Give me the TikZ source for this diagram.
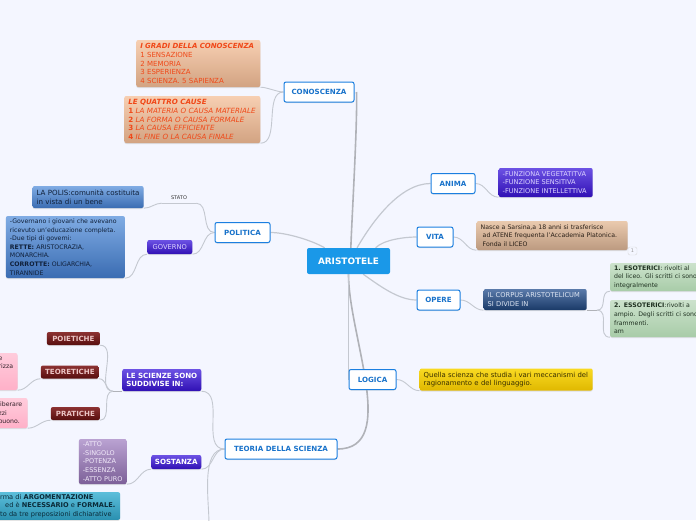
\documentclass[tikz,border=0pt]{standalone}
\usepackage{fontspec}
\setmainfont{DejaVu Sans}
\usepackage{tikz}
\usetikzlibrary{positioning,shadows,backgrounds}

\definecolor{pagebg}{HTML}{F4F6FF}
\definecolor{linkgray}{HTML}{C4C8D0}
\definecolor{trunkgray}{HTML}{B0B2B8}
\definecolor{topicblue}{HTML}{1B7FE0}
\definecolor{rootblue}{HTML}{1A98E8}
\definecolor{peachA}{HTML}{F7CFB2}\definecolor{peachB}{HTML}{D2A382}\definecolor{peachT}{HTML}{F04818}
\definecolor{steelA}{HTML}{80ACE4}\definecolor{steelB}{HTML}{3A6CB2}\definecolor{steelT}{HTML}{10203A}
\definecolor{indigoA}{HTML}{6C52E4}\definecolor{indigoB}{HTML}{3010B4}\definecolor{indigoT}{HTML}{DCD4FF}
\definecolor{maroonA}{HTML}{8C3232}\definecolor{maroonB}{HTML}{580E0E}\definecolor{maroonT}{HTML}{EBC4C4}
\definecolor{blushA}{HTML}{FFCCDC}\definecolor{blushB}{HTML}{FFB0C8}\definecolor{blushT}{HTML}{302028}
\definecolor{lilacA}{HTML}{BAA2D2}\definecolor{lilacB}{HTML}{7C6098}\definecolor{lilacT}{HTML}{F2EAFA}
\definecolor{tealA}{HTML}{5CBEDA}\definecolor{tealB}{HTML}{2A90B0}\definecolor{tealT}{HTML}{0A2A38}
\definecolor{tanA}{HTML}{EACAAE}\definecolor{tanB}{HTML}{BC9A80}\definecolor{tanT}{HTML}{2A2018}
\definecolor{navyA}{HTML}{5A7AAA}\definecolor{navyB}{HTML}{1A3A68}\definecolor{navyT}{HTML}{DCE4F2}
\definecolor{sageA}{HTML}{CCE2CC}\definecolor{sageB}{HTML}{A8CCA8}\definecolor{sageT}{HTML}{1E3020}
\definecolor{goldA}{HTML}{F9DA22}\definecolor{goldB}{HTML}{E0B800}\definecolor{goldT}{HTML}{3A3000}
\newcommand{\boxfont}[1]{\fontsize{#1}{8.6}\selectfont}
\newcommand{\capfont}[1]{\fontsize{#1}{8.6}\selectfont\bfseries}

\tikzset{
    box/.style={rectangle, rounded corners=2pt, inner xsep=4pt, inner ysep=2pt, align=left, font=\boxfont{6.2},
        drop shadow={shadow xshift=0pt, shadow yshift=-1pt, fill=black!30, opacity=.35}},
    fillbox/.style={box, top color=#1A, bottom color=#1B, text=#1T},
    peach/.style={fillbox=peach, font=\boxfont{7.15}, minimum height=47pt},
    steel/.style={fillbox=steel},
    indigo/.style={fillbox=indigo},
    maroon/.style={fillbox=maroon, font=\capfont{7.1}, align=center, minimum height=13pt},
    blush/.style={fillbox=blush},
    lilac/.style={fillbox=lilac, font=\boxfont{6.5}},
    teal/.style={fillbox=teal, font=\boxfont{6.6}},
    tan/.style={fillbox=tan},
    navy/.style={fillbox=navy, font=\boxfont{6.7}},
    sage/.style={fillbox=sage},
    gold/.style={fillbox=gold, font=\boxfont{6.9}},
    topic/.style={rectangle, rounded corners=2pt, draw=topicblue, line width=1pt, fill=white, text=topicblue!90!black,
        font=\capfont{7.1}, minimum height=20pt, inner sep=0pt,
        drop shadow={shadow xshift=0pt, shadow yshift=-1pt, fill=black!30, opacity=.35}},
    link/.style={draw=linkgray, line width=.9pt},
    trunk/.style={draw=trunkgray, line width=1.6pt},
}

\begin{document}
\begin{tikzpicture}[x=1pt, y=-1pt]
    \useasboundingbox (0,0) rectangle (696,520);
    \clip (0,0) rectangle (696,520);

    \node (root) [rectangle, rounded corners=2pt, fill=rootblue, text=white, font=\capfont{8.9}, minimum width=83pt, minimum height=26pt, inner sep=0pt] at (348.5,261) {ARISTOTELE};

    \node (conoscenza) [topic, minimum width=70pt] at (319,92) {CONOSCENZA};
    \node (gradi) [peach, left=23pt of conoscenza, yshift=28.5pt, text width=116pt, font=\boxfont{7}] {\textbf{\textit{I GRADI DELLA CONOSCENZA}}\\1 SENSAZIONE\\2 MEMORIA\\3 ESPERIENZA\\4 SCIENZA. 5 SAPIENZA};
    \node (cause) [peach, left=23pt of conoscenza, yshift=-27.5pt, text width=128pt] {\textbf{\textit{LE QUATTRO CAUSE}}\\\textbf{1} \textit{LA MATERIA O CAUSA MATERIALE}\\\textbf{2} \textit{LA FORMA O CAUSA FORMALE}\\\textbf{3} \textit{LA CAUSA EFFICIENTE}\\\textbf{4} \textit{IL FINE O LA CAUSA FINALE}};

    \node (politica) [topic, minimum width=55pt] at (242.5,232.5) {POLITICA};
    \node (stato) [rectangle, font=\fontsize{5}{6}\selectfont, text=black!80, minimum width=34pt, minimum height=10pt, inner sep=0pt] at (179,198) {STATO};
    \node (polis) [steel, left=18pt of stato, yshift=1pt, text width=103pt, font=\boxfont{7.1}, minimum height=22pt] {LA POLIS:comunità costituita\\in vista di un bene};
    \node (governo) [indigo, left=22pt of politica, yshift=-14.5pt, font=\boxfont{6.7}, minimum width=45pt, minimum height=14pt, inner sep=0pt, align=center] {GOVERNO};
    \node (regimi) [steel, left=22pt of governo, text width=111pt, minimum height=62pt] {-Governano i giovani che avevano\\ricevuto un'educazione completa.\\-Due tipi di governi:\\\textbf{RETTE:} ARISTOCRAZIA,\\MONARCHIA.\\\textbf{CORROTTE:} OLIGARCHIA,\\TIRANNIDE};

    \node (teoria) [topic, minimum width=112pt] at (281,449) {TEORIA DELLA SCIENZA};
    \node (scienze) [indigo, left=23pt of teoria, yshift=69pt, text width=71pt, font=\capfont{7.1}, text=white, minimum height=22pt] {LE SCIENZE SONO\\SUDDIVISE IN:};
    \node (poietiche) [maroon, left=22pt of scienze, yshift=41.5pt, minimum width=53pt, inner sep=0pt] {POIETICHE};
    \node (teoretiche) [maroon, left=23pt of scienze, yshift=8pt, minimum width=58pt, inner sep=0pt] {TEORETICHE};
    \node (pratiche) [maroon, left=22pt of scienze, yshift=-33.5pt, minimum width=49pt, inner sep=0pt] {PRATICHE};
    \node (teoreticheNote) [blush, left=23pt of teoretiche, yshift=.5pt, text width=15pt, minimum height=37pt] {e\\rizza\\~\\~};
    \node (praticheNote) [blush, left=23pt of pratiche, yshift=.5pt, text width=25pt, minimum height=30pt] {liberare\\zzi\\buono.};
    \node (sostanza) [indigo, left=23pt of teoria, yshift=-13pt, font=\capfont{7.1}, text=white, minimum width=50pt, minimum height=14pt, inner sep=0pt, align=center] {SOSTANZA};
    \node (atto) [lilac, left=24pt of sostanza, yshift=.5pt, text width=40pt, minimum height=45pt] {-ATTO\\-SINGOLO\\-POTENZA\\-ESSENZA\\-ATTO PURO};
    \node (argomento) [teal, anchor=north west, text width=116pt] at (-4,492) {rma di \textbf{ARGOMENTAZIONE}\\\hspace*{5pt}ed è \textbf{NECESSARIO} e \textbf{FORMALE.}\\to da tre preposizioni dichiarative};
    \coordinate (teoriaEnd) at (209,524);

    \node (anima) [topic, minimum width=44pt] at (453,183.5) {ANIMA};
    \node (funzioni) [indigo, right=23pt of anima, yshift=1pt, text width=86pt, font=\boxfont{6.6}, minimum height=29pt] {-FUNZIONA VEGETATITVA\\-FUNZIONE SENSITIVA\\-FUNZIONE INTELLETTIVA};

    \node (vita) [topic, minimum width=36pt] at (435,237) {VITA};
    \node (nasce) [tan, right=23pt of vita, yshift=1.5pt, text width=143pt, minimum height=29pt] {Nasce a Sarsina,a 18 anni si trasferisce\\\hspace*{2pt}ad ATENE frequenta l'Accademia Platonica.\\\hspace*{2pt}Fonda il LICEO};
    \node (nota) [rectangle, rounded corners=2pt, draw=black!15, fill=pagebg, text=black!40, font=\fontsize{5}{5}\selectfont, minimum width=9pt, minimum height=8pt, inner sep=0pt] at (632.5,251) {1};

    \node (opere) [topic, minimum width=43pt] at (438.5,300) {OPERE};
    \node (corpus) [navy, right=23pt of opere, yshift=.5pt, text width=95pt, minimum height=21pt] {IL CORPUS ARISTOTELICUM\\SI DIVIDE IN};
    \node (esoterici) [sage, right=23pt of corpus, yshift=22.5pt, text width=110pt, minimum height=28pt] {\textbf{1. ESOTERICI}: rivolti al\\del liceo. Gli scritti ci sono\\integralmente};
    \node (essoterici) [sage, right=23pt of corpus, yshift=-19pt, text width=110pt, minimum height=37pt] {\textbf{2. ESSOTERICI}:rivolti a\\ampio. Degli scritti ci sono\\frammenti.\\am};

    \node (logica) [topic, minimum width=47pt] at (372.5,379.5) {LOGICA};
    \node (ragionamento) [gold, right=23pt of logica, text width=165pt, minimum height=22pt] {Quella scienza che studia i vari meccanismi del\\ragionamento e del linguaggio.};

    \begin{scope}[on background layer]
        \fill [pagebg] (0,0) rectangle (696,520);
        \path [trunk] (root.80) edge [out=88, in=-88, looseness=.5] ([xshift=2pt]conoscenza.east);
        \path [trunk] (root.south) edge [out=-90, in=0, looseness=.9] (teoria.east);
        \path [link, line width=1.2pt] (root.151) edge [out=150, in=0, looseness=.7] (politica.east);
        \path [link, line width=1.2pt] (root.57) edge [out=60, in=180, looseness=.8] (anima.west);
        \path [link, line width=1.2pt] (root.26) edge [out=45, in=180, looseness=.7] (vita.west);
        \path [link, line width=1.2pt] (root.-42) edge [out=-35, in=180, looseness=.8] (opere.west);
        \path [link] (root.south) edge (logica.west);

        \path [link] (gradi.south east) edge [out=0, in=180, looseness=.7] (conoscenza.west);
        \path [link] (cause.south east) edge [out=0, in=180, looseness=.9] (conoscenza.west);

        \path [link] (polis.south east) edge [out=0, in=180] (stato.south west);
        \path [link] (stato.south west) edge (stato.south east);
        \path [link] (stato.south east) edge [out=0, in=180] (politica.west);
        \path [link] (regimi.south east) edge [out=0, in=180] (governo.south west);
        \path [link] (governo.south east) edge [out=0, in=180] (politica.west);

        \path [link] (scienze.south east) edge [out=0, in=180] (teoria.west);
        \path [link] (sostanza.south east) edge [out=0, in=180] (teoria.west);
        \path [link] (teoria.west) edge [out=180, in=90, looseness=.8] (teoriaEnd);
        \path [link] (poietiche.south east) edge [out=0, in=180] ([xshift=-9pt]scienze.south west);
        \path [link] (teoretiche.south east) edge [out=0, in=180] ([xshift=-9pt]scienze.south west);
        \path [link] (pratiche.south east) edge [out=0, in=180] ([xshift=-9pt]scienze.south west);
        \path [trunk, line width=1.1pt] ([xshift=-9pt]scienze.south west) edge (scienze.south west);
        \path [link] (teoreticheNote.south east) edge [out=0, in=180] (teoretiche.south west);
        \path [link] (praticheNote.south east) edge [out=0, in=180] (pratiche.south west);
        \path [link] (atto.south east) edge [out=0, in=180] (sostanza.south west);

        \path [link] (anima.east) edge [out=0, in=180] (funzioni.south west);
        \path [link] (vita.east) edge [out=0, in=180] (nasce.south west);
        \path [link] (opere.east) edge [out=0, in=180] (corpus.south west);
        \path [trunk, line width=1.1pt] (corpus.south east) edge ([xshift=10pt]corpus.south east);
        \path [link] ([xshift=10pt]corpus.south east) edge [out=0, in=180, looseness=1.2] (esoterici.south west);
        \path [link] ([xshift=10pt]corpus.south east) edge [out=0, in=180, looseness=1.2] (essoterici.south west);
        \path [link] (logica.east) edge [out=0, in=180] (ragionamento.south west);
    \end{scope}
\end{tikzpicture}
\end{document}
